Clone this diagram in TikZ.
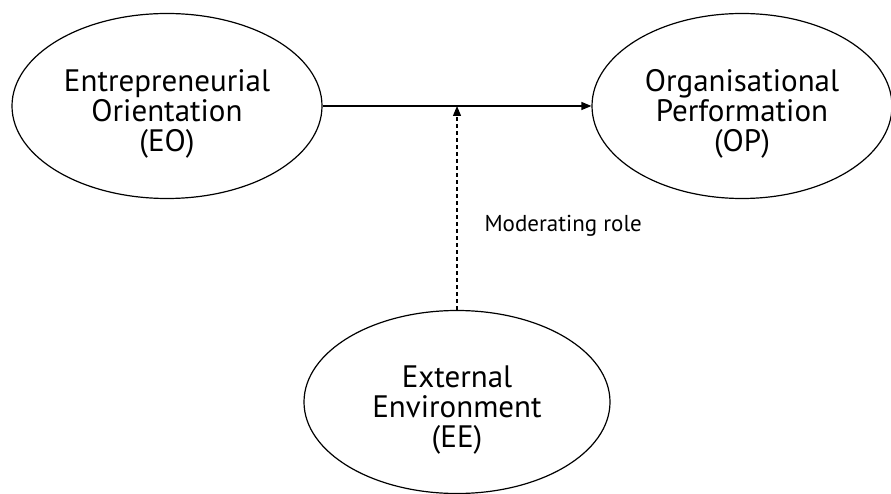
\documentclass[tikz,border=0pt]{standalone}
\usepackage{fontspec}
\setmainfont{PT Sans}
\usetikzlibrary{shapes.geometric,arrows.meta,positioning}
\newcommand{\cstrut}{\rule{0pt}{37pt}}
\begin{document}
\begin{tikzpicture}[x=1pt,y=-1pt,
	construct/.style={ellipse, draw, line width=1.2pt, minimum width=310pt, minimum height=185pt, inner sep=0pt, align=center, font=\fontsize{31}{30}\selectfont},
	>={Triangle[length=10pt,width=8pt]}]
	\useasboundingbox (0,0) rectangle (891,494);
	
	% Costrutti
	\node[construct] (eo) at (167,106) {\cstrut Entrepreneurial\\Orientation\\(EO)};
	\node[construct, minimum width=300pt] (op) at (742,106) {\cstrut Organisational\\Performation\\(OP)};
	\node[construct, minimum width=306pt, minimum height=183pt] (ee) at (457,402) {\cstrut External\\Environment\\(EE)};
	
	% Relazioni
	\draw[->, line width=1.2pt] (eo.east) -- (op.west);
	\draw[->, line width=1.2pt, dash pattern=on 4pt off 3pt] (ee.north) -- (ee.north |- eo.east);
	\node[right, font=\fontsize{23}{25}\selectfont] (mod) at (481,226) {Moderating role};
\end{tikzpicture}
\end{document}
